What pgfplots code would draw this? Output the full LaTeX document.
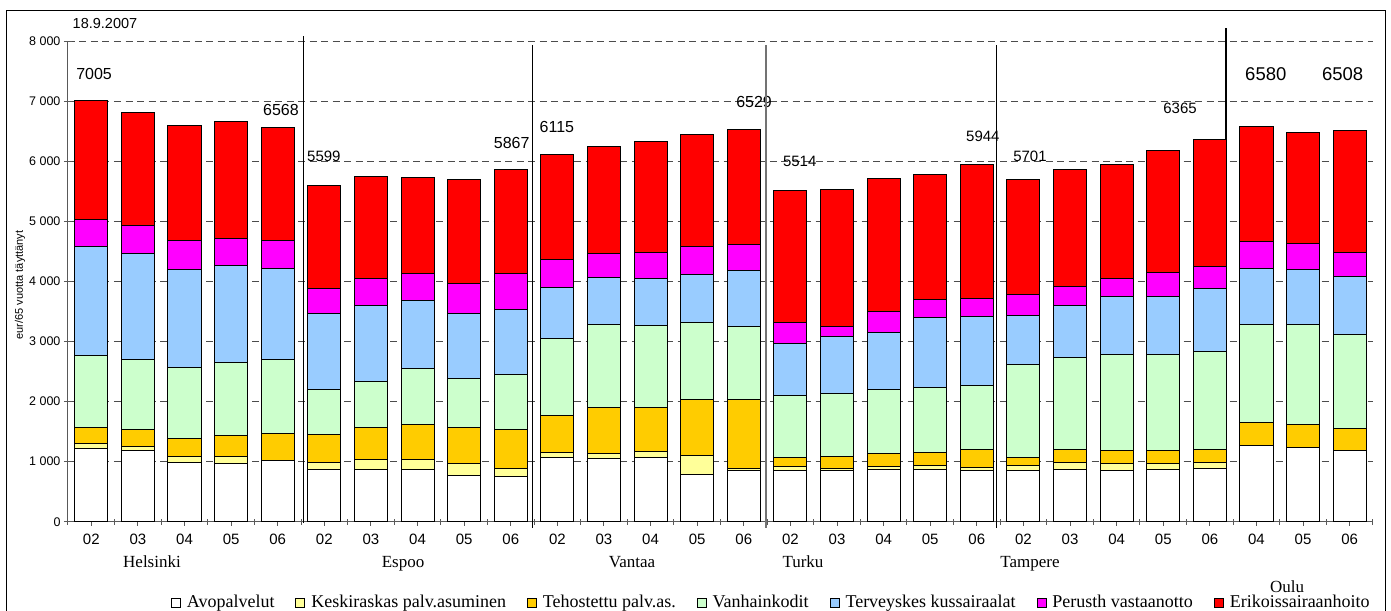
\documentclass[border=0pt]{standalone}
\usepackage{fontspec}
\setmainfont{Liberation Serif}
\setsansfont{Liberation Sans}
\usepackage{pgfplots}
\usepackage{pgfplotstable}
\pgfplotsset{compat=1.18}

\definecolor{cWhite}{HTML}{FFFFFF}
\definecolor{cYellow}{HTML}{FFFF99}
\definecolor{cOrange}{HTML}{FFCC00}
\definecolor{cGreen}{HTML}{CCFFCC}
\definecolor{cBlue}{HTML}{99CCFF}
\definecolor{cMag}{HTML}{FF00FF}
\definecolor{cRed}{HTML}{FF0000}

% eur per 65+ resident, stacked by service
\pgfplotstableread{
x white yellow orange green blue mag red
0 1223 84 260 1195 1811 455 1977
1 1183 62 295 1155 1762 471 1889
2 983 100 300 1190 1622 478 1927
3 967 116 357 1210 1607 460 1940
4 1023 0 450 1222 1522 456 1895
5 862 121 462 750 1267 416 1721
6 873 155 534 771 1267 440 1705
7 873 155 589 933 1133 440 1600
8 767 195 600 816 1084 495 1733
9 750 133 657 910 1078 595 1744
10 1067 78 617 1288 845 462 1758
11 1045 83 767 1395 767 405 1778
12 1067 100 728 1372 773 438 1845
13 783 317 940 1267 810 456 1872
14 845 45 1150 1210 928 439 1912
15 850 62 155 1033 867 356 2191
16 850 40 200 1043 957 155 2283
17 873 39 216 1067 955 340 2217
18 873 55 222 1090 1160 300 2083
19 850 57 300 1055 1161 294 2227
20 850 78 139 1545 828 338 1923
21 867 116 224 1526 867 317 1950
22 850 112 221 1607 950 310 1895
23 867 95 221 1607 950 400 2043
24 890 93 224 1621 1050 372 2115
25 1262 0 395 1626 934 440 1923
26 1240 0 377 1666 917 433 1845
27 1183 0 362 1567 966 395 2035
}\costtable

\newcommand{\fsz}[1]{\fontsize{#1}{#1}\selectfont}
\pgfplotsset{sqlegend/.style={legend image code/.code={%
    \draw[##1,draw=black,line width=0.8pt] (0pt,-4.5pt) rectangle (9pt,4.5pt);}}}

\begin{document}
\begin{tikzpicture}[x=1pt,y=1pt]
\begin{axis}[
    scale only axis, width=1305pt, height=480.7pt,
    ybar stacked, bar width=0.71,
    xmin=-0.5, xmax=27.5, ymin=0, ymax=8000,
    enlargelimits=false, clip=false,
    axis x line=bottom, axis y line=left,
    axis line style={-, black!65, line width=1pt},
    tick align=center,
    ytick={0,1000,...,8000},
    yticklabels={0,1 000,2 000,3 000,4 000,5 000,6 000,7 000,8 000},
    yticklabel style={font=\sffamily\fsz{12.5}},
    major tick length=8pt,
    xtick={0,...,27},
    xticklabels={02,03,04,05,06,02,03,04,05,06,02,03,04,05,06,02,03,04,05,06,02,03,04,05,06,04,05,06},
    xticklabel style={font=\sffamily\fsz{15}, yshift=-5pt},
    minor xtick={-0.5,0.5,...,27.5},
    minor tick length=6pt,
    tick style={black!65, line width=1pt},
    ymajorgrids,
    major grid style={black!70, line width=1pt, dash pattern=on 7pt off 4.5pt},
    every axis plot/.append style={draw=black, line width=1pt},
    legend columns=7,
    legend style={at={(0.539,-0.168)}, anchor=center, draw=none, fill=none,
        font=\fsz{18}, column sep=0pt,
        /tikz/every odd column/.append style={column sep=4pt},
        /tikz/every even column/.append style={column sep=19pt}},
    sqlegend,
]
\addplot[fill=cWhite] table[x=x,y=white] {\costtable};
\addplot[fill=cYellow] table[x=x,y=yellow] {\costtable};
\addplot[fill=cOrange] table[x=x,y=orange] {\costtable};
\addplot[fill=cGreen] table[x=x,y=green] {\costtable};
\addplot[fill=cBlue] table[x=x,y=blue] {\costtable};
\addplot[fill=cMag] table[x=x,y=mag] {\costtable};
\addplot[fill=cRed] table[x=x,y=red] {\costtable};
\legend{Avopalvelut, Keskiraskas palv.asuminen, Tehostettu palv.as., Vanhainkodit, Terveyskes kussairaalat, Perusth vastaanotto, Erikoissairaanhoito}

% city separators
\draw[black, line width=1pt] (axis cs:4.55,8078) -- (axis cs:4.55,-22);
\draw[black, line width=1pt] (axis cs:9.47,7928) -- (axis cs:9.47,-105);
\draw[black!55, line width=2pt] (axis cs:14.48,7928) -- (axis cs:14.48,-105);
\draw[black, line width=1pt] (axis cs:19.43,7928) -- (axis cs:19.43,-105);
\draw[black, line width=2.5pt] (axis cs:24.35,8212) -- (axis cs:24.35,195);

% totals
\node[font=\sffamily\fsz{16}] at (axis cs:0.06,7453) {7005};
\node[font=\sffamily\fsz{16}] at (axis cs:4.07,6845) {6568};
\node[font=\sffamily\fsz{15}] at (axis cs:4.99,6078) {5599};
\node[font=\sffamily\fsz{16}] at (axis cs:9.02,6303) {5867};
\node[font=\sffamily\fsz{16}] at (axis cs:9.99,6570) {6115};
\node[font=\sffamily\fsz{16}] at (axis cs:14.22,6987) {6529};
\node[font=\sffamily\fsz{15}] at (axis cs:15.2,6000) {5514};
\node[font=\sffamily\fsz{15}] at (axis cs:19.13,6417) {5944};
\node[font=\sffamily\fsz{15}] at (axis cs:20.14,6083) {5701};
\node[font=\sffamily\fsz{15}] at (axis cs:23.36,6875) {6365};
\node[font=\sffamily\fsz{18.5}] at (axis cs:25.2,7445) {6580};
\node[font=\sffamily\fsz{18.5}] at (axis cs:26.85,7445) {6508};

\coordinate (O) at (rel axis cs:0,0);
\end{axis}

% page frame in reference pixels, y measured from the page bottom
\pgfresetboundingbox
\begin{scope}[shift={(O)}, xshift=-68pt, yshift=-88.3pt]
\path[use as bounding box] (0,0) rectangle (1391,610);
\draw[line width=1pt] (7,-10) rectangle (1385,599);
\node[font=\sffamily\fsz{14.5}] at (105,586) {18.9.2007};
\node[rotate=90,font=\sffamily\fsz{11}] at (20,325) {eur/65 vuotta täyttänyt};
\node[anchor=base, font=\fsz{17}] at (152,43) {Helsinki};
\node[anchor=base, font=\fsz{17}] at (403,43) {Espoo};
\node[anchor=base, font=\fsz{17}] at (632,43) {Vantaa};
\node[anchor=base, font=\fsz{17}] at (803,43) {Turku};
\node[anchor=base, font=\fsz{17}] at (1030,43) {Tampere};
\node[anchor=base, font=\fsz{17}] at (1287,18) {Oulu};
\end{scope}
\end{tikzpicture}
\end{document}
